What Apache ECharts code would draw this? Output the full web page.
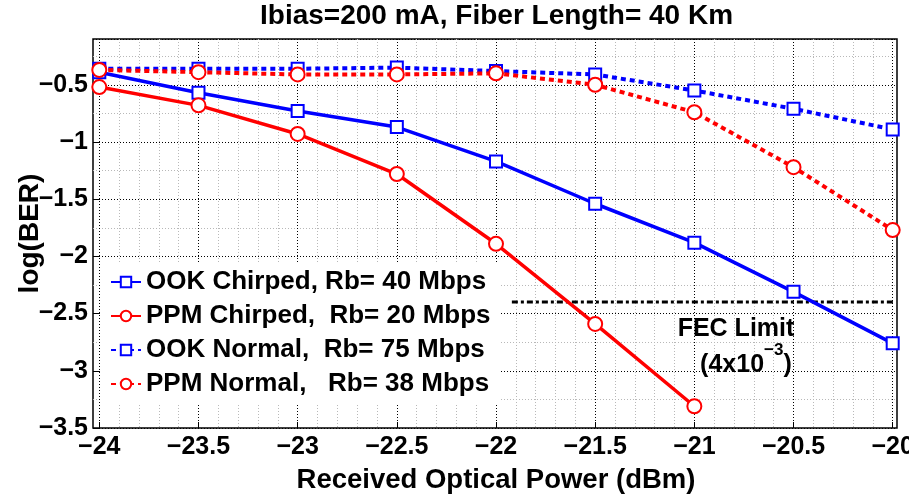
<!DOCTYPE html>
<html>
<head>
<meta charset="utf-8">
<script src="https://cdn.jsdelivr.net/npm/echarts@6/dist/echarts.min.js"></script>
<style>
html,body{margin:0;padding:0;background:#fff;}
#chart{width:909px;height:499px;}
</style>
</head>
<body>
<div id="chart"></div>
<script>
// ---- data ----
const powerDbm = [-24, -23.5, -23, -22.5, -22, -21.5, -21, -20.5, -20];
const ookChirped = [-0.39, -0.57, -0.73, -0.87, -1.17, -1.54, -1.88, -2.31, -2.76];
const ppmChirped = [-0.52, -0.68, -0.93, -1.28, -1.89, -2.59, -3.31];
const ookNormal = [-0.36, -0.36, -0.36, -0.35, -0.38, -0.41, -0.55, -0.71, -0.89];
const ppmNormal = [-0.37, -0.39, -0.41, -0.41, -0.40, -0.50, -0.74, -1.22, -1.77];
const seriesNames = ['OOK Chirped, Rb= 40 Mbps', 'PPM Chirped,  Rb= 20 Mbps', 'OOK Normal,  Rb= 75 Mbps', 'PPM Normal,   Rb= 38 Mbps'];
const fecX = [-21.92, -19.98];
const fecY = [-2.398, -2.398];
const fecLabelPos = [[-20.79, -2.59], [-20.74, -2.90]];
const titleText = 'Ibias=200 mA, Fiber Length= 40 Km';
const xName = 'Received Optical Power (dBm)';
const yName = 'log(BER)';

const FONT = '"Liberation Sans", Arial, sans-serif';
const TITLE_SIZE = 28;
const pair = (ys) => ys.map((y, i) => [powerDbm[i], y]);
const minus = (v) => String(v).replace('-', '\u2212');
const isMajor = (v) => Math.abs(v * 2 - Math.round(v * 2)) < 1e-6;

// measure title width so it can be centred over the plot box
const mctx = document.createElement('canvas').getContext('2d');
mctx.font = 'bold ' + TITLE_SIZE + 'px ' + FONT;
const titleW = mctx.measureText(titleText).width;
const titleCenter = 497;

const chart = echarts.init(document.getElementById('chart'), null, {renderer: 'canvas'});

const majorLine = {show: true, lineStyle: {color: '#000', type: [1, 2], width: 1}};

const option = {
  backgroundColor: '#fff',
  animation: false,
  title: {
    text: titleText, left: Math.round(titleCenter - titleW / 2) - 2, top: 0, padding: [2, 2, 2, 2],
    textStyle: {fontFamily: FONT, fontSize: TITLE_SIZE, fontWeight: 'bold', color: '#000'}
  },
  grid: [
    {left: 93, right: 12, top: 39, bottom: 71, show: true, borderColor: '#000', borderWidth: 1.5, backgroundColor: 'transparent', outerBoundsMode: 'none'},
    {left: 99.3, right: 16.3, top: 39, bottom: 71, outerBoundsMode: 'none'}
  ],
  xAxis: [
    {
      type: 'value', gridIndex: 1, position: 'bottom', min: -24, max: -20, interval: 0.5,
      axisLine: {show: false},
      axisTick: {show: true, inside: true, length: 6, lineStyle: {color: '#000', width: 1}},
      axisLabel: {fontFamily: FONT, fontSize: 25, fontWeight: 'bold', color: '#000', margin: 7, formatter: minus},
      splitLine: majorLine,
      name: xName, nameLocation: 'middle', nameGap: 38, nameMoveOverlap: false,
      nameTextStyle: {fontFamily: FONT, fontSize: 27.5, fontWeight: 'bold', color: '#000'}
    },
    {
      type: 'value', gridIndex: 1, position: 'top', min: -24, max: -20, interval: 0.1,
      axisLine: {show: false}, axisTick: {show: false}, axisLabel: {show: false},
      splitLine: {show: true, lineStyle: {color: ['rgba(0,0,0,0)', '#b8b8b8', '#b8b8b8', '#b8b8b8', '#b8b8b8'], type: [1, 2], width: 1}}
    },
    {type: 'value', gridIndex: 0, show: false, min: 0, max: 1}
  ],
  yAxis: [
    {type: 'value', gridIndex: 1, show: false, min: -3.5, max: -0.1},
    {
      type: 'value', gridIndex: 0, position: 'left', min: -3.5, max: -0.1, interval: 0.5,
      axisLine: {show: false},
      axisTick: {show: true, inside: true, length: 6, lineStyle: {color: '#000', width: 1}},
      axisLabel: {fontFamily: FONT, fontSize: 25, fontWeight: 'bold', color: '#000', margin: 5, showMaxLabel: false,
        formatter: (v) => isMajor(v) ? minus(v) : ''},
      splitLine: majorLine,
      name: yName, nameLocation: 'middle', nameGap: 49, nameMoveOverlap: false,
      nameTextStyle: {fontFamily: FONT, fontSize: 28, fontWeight: 'bold', color: '#000'}
    },
    {
      type: 'value', gridIndex: 0, position: 'right', min: -3.5, max: -0.1, interval: 0.25,
      axisLine: {show: false}, axisTick: {show: false}, axisLabel: {show: false},
      splitLine: {show: true, lineStyle: {color: ['rgba(0,0,0,0)', '#b8b8b8'], type: [1, 2], width: 1}}
    }
  ],
  legend: {
    orient: 'vertical', left: 102, top: 263, itemWidth: 30, itemHeight: 13, itemGap: 8,
    padding: [6, 10, 6, 8], backgroundColor: '#fff', data: seriesNames,
    textStyle: {fontFamily: FONT, fontSize: 26, fontWeight: 'bold', color: '#000'}
  },
  series: [
    {
      name: seriesNames[0], type: 'line', xAxisIndex: 0, yAxisIndex: 0, data: pair(ookChirped),
      lineStyle: {color: '#0000ff', width: 3.5}, symbol: 'emptyRect', symbolSize: 12,
      itemStyle: {color: '#0000ff', borderWidth: 3.5}, z: 3
    },
    {
      name: seriesNames[1], type: 'line', xAxisIndex: 0, yAxisIndex: 0, data: pair(ppmChirped),
      lineStyle: {color: '#ff0000', width: 3.5}, symbol: 'emptyCircle', symbolSize: 14,
      itemStyle: {color: '#ff0000', borderWidth: 3.5}, z: 3
    },
    {
      name: seriesNames[2], type: 'line', xAxisIndex: 0, yAxisIndex: 0, data: pair(ookNormal),
      lineStyle: {color: '#0000ff', width: 4, type: [5, 4]}, symbol: 'emptyRect', symbolSize: 12,
      itemStyle: {color: '#0000ff', borderWidth: 3.5}, z: 3
    },
    {
      name: seriesNames[3], type: 'line', xAxisIndex: 0, yAxisIndex: 0, data: pair(ppmNormal),
      lineStyle: {color: '#ff0000', width: 4, type: [5, 4]}, symbol: 'emptyCircle', symbolSize: 14,
      itemStyle: {color: '#ff0000', borderWidth: 3.5}, z: 3
    },
    {
      name: 'FEC', type: 'line', xAxisIndex: 0, yAxisIndex: 0, clip: false, silent: true,
      data: fecX.map((x, i) => [x, fecY[i]]), symbol: 'none',
      lineStyle: {color: '#000', width: 3, type: [6, 3, 3, 3]}, z: 2
    },
    {
      name: 'FEC label', type: 'scatter', xAxisIndex: 0, yAxisIndex: 0, symbolSize: 1, silent: true,
      data: fecLabelPos,
      itemStyle: {color: 'rgba(0,0,0,0)', opacity: 1},
      label: {
        show: true, position: 'inside', fontFamily: FONT, color: '#000', opacity: 1, textBorderWidth: 0,
        formatter: (p) => p.dataIndex === 0 ? '{a|FEC Limit}' : '{a|(4x10}{s|\u22123}{a|)}',
        rich: {
          a: {fontFamily: FONT, fontSize: 25, fontWeight: 'bold', color: '#000', lineHeight: 36, verticalAlign: 'bottom', textBorderWidth: 0},
          s: {fontFamily: FONT, fontSize: 17, fontWeight: 'bold', color: '#000', lineHeight: 36, verticalAlign: 'top', textBorderWidth: 0}
        }
      },
      emphasis: {disabled: true}, z: 4
    }
  ]
};
chart.setOption(option);
</script>
</body>
</html>
